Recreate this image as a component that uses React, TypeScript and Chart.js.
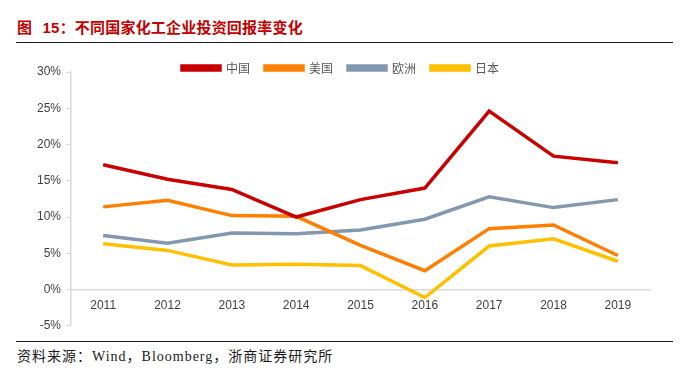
import React, { useEffect, useRef } from "react";
import { Chart, registerables } from "chart.js";

Chart.register(...registerables);

const years = ["2011", "2012", "2013", "2014", "2015", "2016", "2017", "2018", "2019"];
const china = [17.2, 15.2, 13.8, 10.0, 12.4, 14.0, 24.6, 18.4, 17.5];
const usa = [11.4, 12.3, 10.2, 10.1, 6.1, 2.6, 8.4, 8.9, 4.7];
const europe = [7.45, 6.4, 7.8, 7.7, 8.2, 9.7, 12.8, 11.3, 12.4];
const japan = [6.3, 5.4, 3.4, 3.5, 3.3, -1.1, 6.0, 7.0, 3.9];
const seriesNames = ["中国", "美国", "欧洲", "日本"];
const seriesColors = ["#C80000", "#FF7F00", "#8497B0", "#FFC000"];
const yMin = -5;
const yMax = 30;
const yStep = 5;

const titleText = "图 15：不同国家化工企业投资回报率变化";
const sourceText = "资料来源：Wind，Bloomberg，浙商证券研究所";

export default function App() {
  const ref = useRef<HTMLCanvasElement | null>(null);

  useEffect(() => {
    document.body.style.margin = "0";
    if (!ref.current) return;
    const values = [china, usa, europe, japan];
    const legendShrink = {
      id: "legendShrink",
      beforeInit(chart: any) {
        const orig = chart.legend.fit;
        chart.legend.fit = function () {
          orig.bind(this)();
          this.height = 20;
        };
      },
      afterLayout(chart: any) {
        const lg = chart.legend;
        lg.top -= 5;
        lg.bottom = lg.top + 40;
        lg.height = 40;
      },
    };
    const chart = new Chart(ref.current, {
      type: "line",
      data: {
        labels: years,
        datasets: values.map((v, i) => ({
          label: seriesNames[i],
          data: v,
          borderColor: seriesColors[i],
          backgroundColor: seriesColors[i],
          borderWidth: 3.5,
          pointRadius: 0,
          tension: 0,
        })),
      },
      options: {
        animation: false,
        responsive: false,
        maintainAspectRatio: false,
        layout: { padding: { left: 31, right: 46, top: 6, bottom: 10 } },
        plugins: {
          tooltip: { enabled: false },
          legend: {
            position: "top",
            labels: {
              boxWidth: 38,
              boxHeight: 4,
              padding: 15,
              color: "#595959",
              font: { family: "'Noto Sans CJK SC', sans-serif", size: 12 },
            },
          },
        },
        scales: {
          x: {
            type: "category",
            offset: true,
            position: { y: 0 } as any,
            grid: { display: true, drawOnChartArea: false, drawTicks: false },
            border: { display: true, color: "#d9d9d9", width: 1.5 },
            ticks: {
              color: "#404040",
              padding: 9,
              font: { family: "'Liberation Sans', Arial, sans-serif", size: 12 },
              maxRotation: 0,
            },
          },
          y: {
            min: yMin,
            max: yMax,
            afterFit(s: any) {
              s.width = 40;
            },
            grid: { display: true, drawOnChartArea: false, drawTicks: true, tickLength: 5, color: "#d9d9d9" },
            border: { display: true, color: "#d9d9d9", width: 1.5 },
            ticks: {
              stepSize: yStep,
              padding: 5,
              color: "#404040",
              font: { family: "'Liberation Sans', Arial, sans-serif", size: 12 },
              callback: (v: any) => v + "%",
            },
          },
        },
      },
      plugins: [legendShrink],
    });
    return () => chart.destroy();
  }, []);

  return (
    <div style={{ position: "relative", width: 696, height: 374, background: "#fff", overflow: "hidden" }}>
      <div
        style={{
          position: "absolute",
          left: 17,
          top: 19,
          fontFamily: "'Liberation Sans', 'Noto Sans CJK SC', sans-serif",
          fontWeight: "bold",
          fontSize: 15,
          lineHeight: "18px",
          color: "#C00000",
          whiteSpace: "pre",
          wordSpacing: 6,
          letterSpacing: 0.2,
        }}
      >
        {titleText}
      </div>
      <div style={{ position: "absolute", left: 16, top: 42, width: 657, height: 0, borderTop: "1.5px solid #1a1a1a" }} />
      <canvas ref={ref} width={696} height={292} style={{ position: "absolute", left: 0, top: 46, width: 696, height: 292 }} />
      <div style={{ position: "absolute", left: 16, top: 341, width: 657, height: 0, borderTop: "1.5px solid #1a1a1a" }} />
      <div
        style={{
          position: "absolute",
          left: 17,
          top: 348,
          fontFamily: "'Liberation Serif', 'Noto Sans CJK SC', serif",
          fontSize: 14,
          lineHeight: "17px",
          letterSpacing: 1,
          color: "#1a1a1a",
          whiteSpace: "pre",
        }}
      >
        {sourceText}
      </div>
    </div>
  );
}
